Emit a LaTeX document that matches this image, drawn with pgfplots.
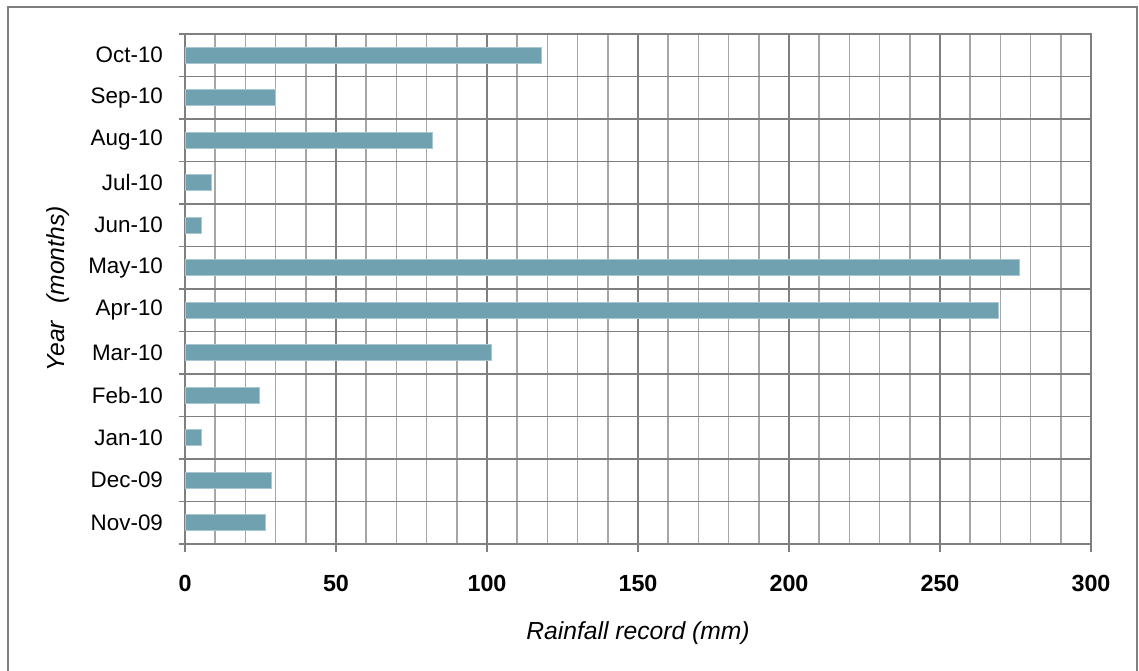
\documentclass[border=0pt]{standalone}
\usepackage{pgfplots}
\pgfplotsset{compat=1.18}
\usepackage{fontspec}
\setmainfont{Liberation Sans}
\definecolor{barc}{HTML}{6FA1B0}
\definecolor{gmaj}{HTML}{7F7F7F}
\definecolor{gmin}{HTML}{A6A6A6}
\begin{document}
\begin{tikzpicture}
\useasboundingbox (0pt,0pt) rectangle (854.25pt,503.25pt);
\draw[gmaj,line width=1.4pt] (6pt,-15pt) rectangle (852.75pt,498pt);
\begin{axis}[
  at={(138.75pt,95.25pt)}, anchor=south west,
  scale only axis,
  width=679.5pt, height=382.5pt,
  xbar, bar width=12pt,
  xmin=0, xmax=300,
  ymin=-0.5, ymax=11.5,
  xtick={0,50,...,300},
  minor x tick num=4,
  ytick={0,...,11},
  yticklabels={Nov-09,Dec-09,Jan-10,Feb-10,Mar-10,Apr-10,May-10,Jun-10,Jul-10,Aug-10,Sep-10,Oct-10},
  minor ytick={-0.5,0.5,...,11.5},
  xmajorgrids, xminorgrids, yminorgrids,
  major grid style={gmaj,line width=1.1pt},
  minor x grid style={gmin,line width=1.1pt},
  minor y grid style={gmaj,line width=1.1pt},
  axis line style={gmaj,line width=1.5pt},
  tick align=outside,
  major tick length=6pt,
  minor tick length=4.5pt,
  xtick pos=bottom, ytick pos=left,
  major x tick style={gmaj,line width=1.1pt},
  minor x tick style={draw=none},
  major y tick style={draw=none},
  minor y tick style={gmaj,line width=1.1pt},
  /pgf/number format/assume math mode=true,
  xticklabel style={font=\fontsize{17.5}{18}\selectfont\bfseries, yshift=-13.5pt},
  yticklabel style={font=\fontsize{16.8}{17}\selectfont, xshift=-7pt},
  xlabel={\itshape Rainfall record (mm)},
  ylabel={\itshape Year\hspace{0.7em}(months)},
  xlabel style={font=\fontsize{18.5}{19}\selectfont, yshift=-16pt},
  ylabel style={font=\fontsize{18.5}{19}\selectfont, yshift=7pt},
]
\addplot[fill=barc, draw=barc!60!white, line width=0.6pt] coordinates {
 (26.5,0) (28.5,1) (5.3,2) (24.8,3) (101.3,4) (269.5,5) (276.2,6) (5.3,7) (8.6,8) (81.8,9) (29.8,10) (117.9,11)};
\end{axis}
\end{tikzpicture}
\end{document}
